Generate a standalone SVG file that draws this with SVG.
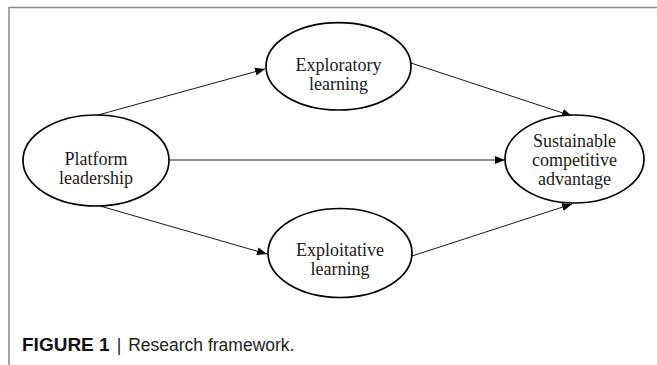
<svg xmlns="http://www.w3.org/2000/svg" width="657" height="365" viewBox="0 0 657 365">
  <style>
    .node ellipse { fill: #ffffff; stroke: #000000; stroke-width: 1.7; }
    .node text { font-family: "Liberation Serif", "Times New Roman", serif; font-size: 18px; fill: #1a1a1a; text-anchor: middle; }
    .edge { stroke: #1a1a1a; stroke-width: 1; fill: none; marker-end: url(#arrow); }
    .frame { stroke: #8a8a8a; stroke-width: 1.5; fill: none; }
    .caption { font-family: "Liberation Sans", Arial, sans-serif; font-size: 17.5px; fill: #222222; }
    .caption .label { font-weight: bold; font-size: 19px; fill: #111111; }
  </style>
  <defs>
    <marker id="arrow" viewBox="0 0 10 8" refX="10" refY="4" markerWidth="10" markerHeight="8" markerUnits="userSpaceOnUse" orient="auto">
      <path d="M0,0 L10,4 L0,8 Z" fill="#000000"/>
    </marker>
  </defs>

  <rect width="657" height="365" fill="#ffffff"/>

  <!-- panel frame: top and left rules -->
  <path class="frame" d="M9,365 V7.5 H657"/>

  <!-- connectors -->
  <g id="connectors">
    <line class="edge" x1="98" y1="115" x2="265" y2="69"/>
    <line class="edge" x1="411" y1="63" x2="572" y2="116"/>
    <line class="edge" x1="169" y1="160" x2="505" y2="160"/>
    <line class="edge" x1="100" y1="206" x2="267" y2="254"/>
    <line class="edge" x1="412" y1="256" x2="572" y2="204"/>
  </g>

  <!-- nodes -->
  <g id="platform-leadership" class="node">
    <ellipse cx="96" cy="160.5" rx="73" ry="45.5"/>
    <text x="96" y="165">Platform</text>
    <text x="96" y="184">leadership</text>
  </g>

  <g id="exploratory-learning" class="node">
    <ellipse cx="338.5" cy="66.3" rx="72.5" ry="43.7"/>
    <text x="338.5" y="70.5">Exploratory</text>
    <text x="338.5" y="89.5">learning</text>
  </g>

  <g id="exploitative-learning" class="node">
    <ellipse cx="340" cy="253" rx="72" ry="44.5"/>
    <text x="340" y="256">Exploitative</text>
    <text x="340" y="275">learning</text>
  </g>

  <g id="sustainable-competitive-advantage" class="node">
    <ellipse cx="574.5" cy="159" rx="69.5" ry="44"/>
    <text x="574.5" y="147">Sustainable</text>
    <text x="574.5" y="166">competitive</text>
    <text x="574.5" y="185">advantage</text>
  </g>

  <!-- caption -->
  <text class="caption" x="22" y="351"><tspan class="label">FIGURE 1</tspan><tspan dx="7">|</tspan><tspan dx="7">Research framework.</tspan></text>
</svg>
